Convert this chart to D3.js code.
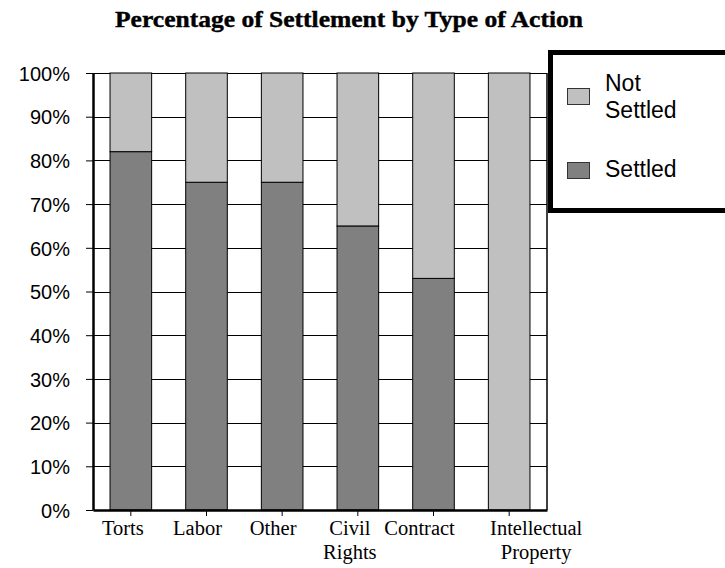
<!DOCTYPE html>
<html>
<head>
<meta charset="utf-8">
<script src="https://cdn.jsdelivr.net/npm/d3@7"></script>
<style>
  body { margin: 0; background: #fff; }
</style>
</head>
<body>
<script>
// chart data
var categories = ["Torts", "Labor", "Other", "Civil Rights", "Contract", "Intellectual Property"];
var labelLines = [["Torts"], ["Labor"], ["Other"], ["Civil", "Rights"], ["Contract"], ["Intellectual", "Property"]];
var settled = [0.82, 0.75, 0.75, 0.65, 0.53, 0.00];
var notSettled = [0.18, 0.25, 0.25, 0.35, 0.47, 1.00];
var yTicks = [0, 0.1, 0.2, 0.3, 0.4, 0.5, 0.6, 0.7, 0.8, 0.9, 1.0];
var seriesNames = ["Settled", "Not Settled"];

// layout (plotTop, not "top" - that one is window.top)
var width = 725, height = 568;
var plotLeft = 93, plotRight = 547, plotTop = 73, plotBottom = 510;
var labelDx = [-8, -9, -9, -8, -14, 27];   // excel-ish label offsets
var colors = {"Settled": "#808080", "Not Settled": "#c0c0c0"};

var svg = d3.select("body")
    .append("svg")
    .attr("width", width)
    .attr("height", height);

var x = d3.scaleBand()
    .domain(categories)
    .range([plotLeft, plotRight])
    .paddingInner(0.45)
    .paddingOuter(0.225);

var y = d3.scaleLinear()
    .domain([0, 1])
    .range([plotBottom, plotTop]);

// title
svg.append("text")
    .attr("x", 115)
    .attr("y", 27)
    .attr("textLength", 468)
    .attr("lengthAdjust", "spacingAndGlyphs")
    .style("font-family", "'Liberation Serif', 'Times New Roman', serif")
    .style("font-weight", "bold")
    .style("font-size", "23px")
    .style("stroke", "#000")
    .style("stroke-width", 0.4)
    .text("Percentage of Settlement by Type of Action");

// gridlines
svg.append("g")
    .selectAll("line")
    .data(yTicks.slice(1))
    .enter()
    .append("line")
    .attr("x1", plotLeft)
    .attr("x2", plotRight)
    .attr("y1", function(d){ return Math.round(y(d)) + 0.5; })
    .attr("y2", function(d){ return Math.round(y(d)) + 0.5; })
    .attr("stroke", "#000")
    .attr("stroke-width", 1);

// right border
svg.append("line")
    .attr("x1", plotRight).attr("x2", plotRight)
    .attr("y1", y(1)).attr("y2", y(0))
    .attr("stroke", "#000")
    .attr("stroke-width", 1.5);

// stacked bars
var rows = categories.map(function(c, i){
    return {cat: c, "Settled": settled[i], "Not Settled": notSettled[i]};
});
var stacked = d3.stack().keys(seriesNames)(rows);

svg.append("g")
    .selectAll("g")
    .data(stacked)
    .enter()
    .append("g")
    .attr("fill", function(d){ return colors[d.key]; })
    .selectAll("rect")
    .data(function(d){ return d.filter(function(s){ return s[1] - s[0] > 0; }); })
    .enter()
    .append("rect")
    .attr("x", function(d){ return x(d.data.cat); })
    .attr("y", function(d){ return y(d[1]); })
    .attr("width", x.bandwidth())
    .attr("height", function(d){ return y(d[0]) - y(d[1]); })
    .attr("stroke", "#000")
    .attr("stroke-width", 1);

// y axis
var yAxis = svg.append("g")
    .attr("transform", "translate(" + plotLeft + ",0)")
    .call(d3.axisLeft(y)
        .tickValues(yTicks)
        .tickFormat(d3.format(".0%"))
        .tickSize(7)
        .tickSizeOuter(0)
        .tickPadding(16));
yAxis.select(".domain").attr("stroke-width", 2.5);
yAxis.selectAll(".tick line").attr("stroke-width", 1);
yAxis.selectAll("text")
    .style("font-family", "'Liberation Sans', Arial, sans-serif")
    .style("font-size", "20px")
    .attr("fill", "#000")
    .attr("dy", "0.36em");

// x axis
var xAxis = svg.append("g")
    .attr("transform", "translate(0," + plotBottom + ")")
    .call(d3.axisBottom(x).tickSize(6).tickSizeOuter(0).tickFormat(""));
xAxis.select(".domain").attr("stroke-width", 2.5);

var xLabels = svg.append("g")
    .selectAll("text")
    .data(categories)
    .enter()
    .append("text")
    .attr("text-anchor", "middle")
    .style("font-family", "'Liberation Serif', 'Times New Roman', serif")
    .style("font-size", "20.5px")
    .attr("fill", "#000");

xLabels.each(function(d, i){
    var t = d3.select(this);
    var cx = x(d) + x.bandwidth() / 2 + labelDx[i];
    labelLines[i].forEach(function(line, j){
        t.append("tspan")
            .attr("x", cx)
            .attr("y", 535 + j * 24)
            .text(line);
    });
});

// legend
var legend = svg.append("g");
legend.append("rect")
    .attr("x", 550.5)
    .attr("y", 52.5)
    .attr("width", 190)
    .attr("height", 158)
    .attr("fill", "#fff")
    .attr("stroke", "#000")
    .attr("stroke-width", 5);

var legendItems = [
    {name: "Not Settled", lines: ["Not", "Settled"], sy: 88},
    {name: "Settled", lines: ["Settled"], sy: 162}
];

legendItems.forEach(function(item){
    legend.append("rect")
        .attr("x", 567.5)
        .attr("y", item.sy + 0.5)
        .attr("width", 22)
        .attr("height", 16)
        .attr("fill", colors[item.name])
        .attr("stroke", "#333")
        .attr("stroke-width", 1);
    var t = legend.append("text")
        .style("font-family", "'Liberation Sans', Arial, sans-serif")
        .style("font-size", "23px")
        .attr("fill", "#000");
    item.lines.forEach(function(line, j){
        t.append("tspan")
            .attr("x", 605)
            .attr("y", item.lines.length > 1 ? 91 + j * 27 : 177)
            .text(line);
    });
});
</script>
</body>
</html>
